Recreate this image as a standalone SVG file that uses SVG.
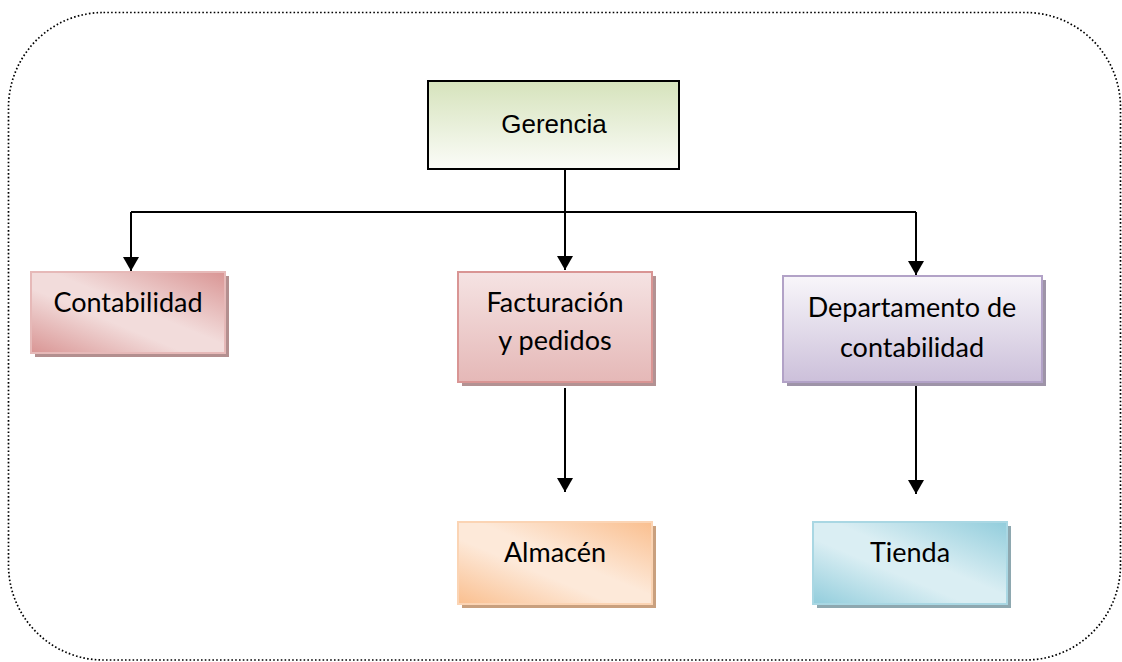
<svg xmlns="http://www.w3.org/2000/svg" width="1122" height="662" viewBox="0 0 1122 662">
  <style>
    .lbl { font-family: Lato, "Open Sans", "Noto Sans", sans-serif; font-size: 27px; fill: #000; text-anchor: middle; }
    .arial { font-family: "Liberation Sans", Arial, sans-serif; font-size: 26px; fill: #000; text-anchor: middle; }
    .conn { fill: none; stroke: #000; stroke-width: 2; }
    .frame { fill: none; stroke: #000; stroke-width: 1.7; stroke-dasharray: 1.6 2.2; }
  </style>
  <defs>
    <marker id="arrow" viewBox="0 0 14 16" refX="14" refY="8" markerWidth="14" markerHeight="16" markerUnits="userSpaceOnUse" orient="auto">
      <path d="M0,0 L14,8 L0,16 Z" fill="#000"/>
    </marker>
    <linearGradient id="gGer" x1="0" y1="0" x2="0" y2="1">
      <stop offset="0" stop-color="#d6e3bc"/>
      <stop offset="1" stop-color="#fbfcf8"/>
    </linearGradient>
    <linearGradient id="gCont" x1="1" y1="0" x2="0" y2="1">
      <stop offset="0" stop-color="#d99594"/>
      <stop offset="0.45" stop-color="#f2dcdb"/>
      <stop offset="0.6" stop-color="#f2dcdb"/>
      <stop offset="1" stop-color="#d99594"/>
    </linearGradient>
    <linearGradient id="gFact" x1="0" y1="0" x2="0" y2="1">
      <stop offset="0" stop-color="#f5e3e3"/>
      <stop offset="1" stop-color="#e5b8b7"/>
    </linearGradient>
    <linearGradient id="gDep" x1="0" y1="0" x2="0" y2="1">
      <stop offset="0" stop-color="#f8f6fa"/>
      <stop offset="1" stop-color="#ccc0da"/>
    </linearGradient>
    <linearGradient id="gAlm" x1="1" y1="0" x2="0" y2="1">
      <stop offset="0" stop-color="#fabf8f"/>
      <stop offset="0.45" stop-color="#fde9d9"/>
      <stop offset="0.6" stop-color="#fde9d9"/>
      <stop offset="1" stop-color="#fabf8f"/>
    </linearGradient>
    <linearGradient id="gTie" x1="1" y1="0" x2="0" y2="1">
      <stop offset="0" stop-color="#92cddc"/>
      <stop offset="0.45" stop-color="#daeef3"/>
      <stop offset="0.6" stop-color="#daeef3"/>
      <stop offset="1" stop-color="#92cddc"/>
    </linearGradient>
  </defs>

  <rect class="frame" x="8.5" y="12.5" width="1112" height="647.5" rx="95" ry="95"/>

  <g id="connectors">
    <path class="conn" d="M131,212 H916"/>
    <path class="conn" d="M131,212 V271" marker-end="url(#arrow)"/>
    <path class="conn" d="M565,166 V270" marker-end="url(#arrow)"/>
    <path class="conn" d="M916,212 V275" marker-end="url(#arrow)"/>
    <path class="conn" d="M565,388 V492" marker-end="url(#arrow)"/>
    <path class="conn" d="M916,385 V494" marker-end="url(#arrow)"/>
  </g>

  <g id="gerencia">
    <rect x="428" y="81" width="251" height="88" fill="url(#gGer)" stroke="#000" stroke-width="2"/>
    <text class="arial" x="554" y="133">Gerencia</text>
  </g>

  <g id="contabilidad">
    <rect x="35" y="276" width="194" height="81" fill="#b38f8f"/>
    <rect x="31" y="272" width="194" height="81" fill="url(#gCont)" stroke="#e6b9b8" stroke-width="2"/>
    <text class="lbl" x="128" y="312">Contabilidad</text>
  </g>

  <g id="facturacion">
    <rect x="462" y="276" width="194" height="110" fill="#b39293"/>
    <rect x="458" y="272" width="194" height="110" fill="url(#gFact)" stroke="#d99594" stroke-width="2"/>
    <text class="lbl" x="555" y="312">Facturación</text>
    <text class="lbl" x="555" y="350">y pedidos</text>
  </g>

  <g id="departamento">
    <rect x="787" y="280" width="259" height="106" fill="#9e94a8"/>
    <rect x="783" y="276" width="259" height="106" fill="url(#gDep)" stroke="#b2a2c7" stroke-width="2"/>
    <text class="lbl" x="912" y="317">Departamento de</text>
    <text class="lbl" x="912" y="357">contabilidad</text>
  </g>

  <g id="almacen">
    <rect x="462" y="526" width="194" height="82" fill="#c9a07e"/>
    <rect x="458" y="522" width="194" height="82" fill="url(#gAlm)" stroke="#fbd4b4" stroke-width="2"/>
    <text class="lbl" x="555" y="562">Almacén</text>
  </g>

  <g id="tienda">
    <rect x="817" y="526" width="194" height="82" fill="#8ea8b0"/>
    <rect x="813" y="522" width="194" height="82" fill="url(#gTie)" stroke="#a9d7e3" stroke-width="2"/>
    <text class="lbl" x="910" y="562">Tienda</text>
  </g>
</svg>
